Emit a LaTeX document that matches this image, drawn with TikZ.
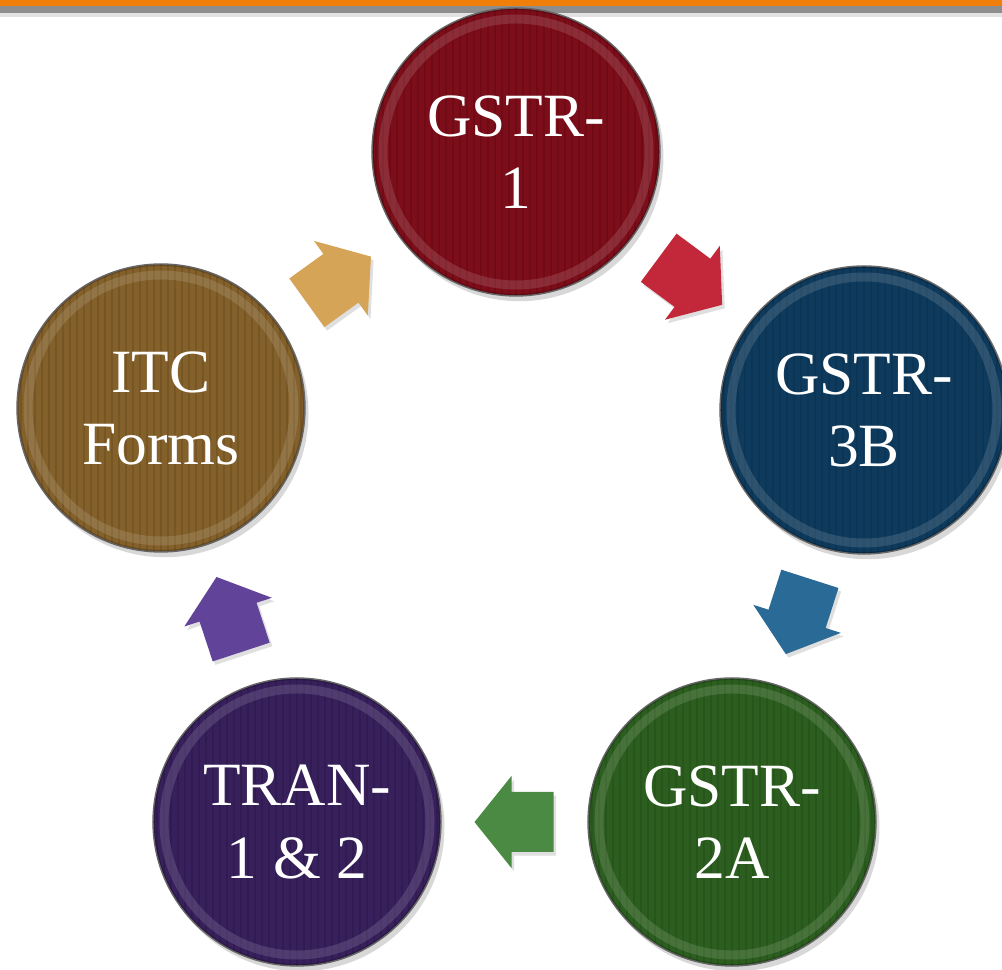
\documentclass[tikz,border=0pt]{standalone}
\usepackage{fontspec}
\setmainfont{Liberation Serif}
\usepackage{xcolor}
\usepackage{tikz}
\usetikzlibrary{
	calc,
	shadows
}

\definecolor{gstrone}{HTML}{7C0D19}
\definecolor{gstrthree}{HTML}{0E3A5D}
\definecolor{gstrtwo}{HTML}{2C5F1F}
\definecolor{tranpurple}{HTML}{37205B}
\definecolor{itcbrown}{HTML}{84602A}
\definecolor{arrred}{HTML}{C3283A}
\definecolor{arrblue}{HTML}{2A6A97}
\definecolor{arrgreen}{HTML}{4B8A42}
\definecolor{arrpurple}{HTML}{62439A}
\definecolor{arrtan}{HTML}{D6A457}
\definecolor{barorange}{HTML}{F07F09}
\definecolor{bargrey}{HTML}{8E8E8E}
\definecolor{barlight}{HTML}{E2E2E2}

\begin{document}
\begin{tikzpicture}[x=0.02cm, y=0.02cm,
	stage/.style={circle, minimum size=5.76cm, inner sep=0pt, align=center,
		text=white, font=\fontsize{35}{41}\selectfont,
		draw=black!60, line width=0.8pt,
		drop shadow={shadow xshift=2pt, shadow yshift=-3pt, opacity=.3},
		path picture={
			\foreach \k in {-147,-140,...,147}
			\draw[black, opacity=.1, line width=0.05cm]
				([xshift=\k*0.02cm]path picture bounding box.south) -- ([xshift=\k*0.02cm]path picture bounding box.north);
			\draw[white, opacity=.13, line width=0.18cm]
				(path picture bounding box.center) circle[radius=133];
			\draw[black, opacity=.22, line width=0.16cm]
				(path picture bounding box.center) circle[radius=146];
		}},
	pics/blockarrow/.style={code={
		\fill[#1, drop shadow={shadow xshift=1.5pt, shadow yshift=-2pt, opacity=.25}]
			(-39,-30) -- (3,-30) -- (3,-46) -- (40,0) -- (3,46) -- (3,30) -- (-39,30) -- cycle;
	}}]
	\useasboundingbox (0,0) rectangle (1002,970);
	\fill[white] (0,0) rectangle (1002,970);
	\fill[barlight] (0,953) rectangle (1002,957);
	\fill[bargrey] (0,957) rectangle (1002,964);
	\fill[barorange] (0,964) rectangle (1002,970);
	\foreach \name/\x/\y/\col/\txt in {
		gone/516/818/gstrone/{GSTR-\\1},
		gthree/864/560/gstrthree/{GSTR-\\3B},
		gtwo/732/148/gstrtwo/{GSTR-\\2A},
		tran/297/148/tranpurple/{TRAN-\\1 \& 2},
		itc/161/562/itcbrown/{ITC\\Forms}}
	\node[stage, fill=\col] (\name) at (\x,\y) {\txt};
	\foreach \a/\b/\col in {gone/gthree/arrred, gthree/gtwo/arrblue, gtwo/tran/arrgreen, tran/itc/arrpurple, itc/gone/arrtan}
	\path let \p1=($(\b)-(\a)$), \n1={atan2(\y1,\x1)} in
		($(\a)!0.5!(\b)$) pic[rotate=\n1] {blockarrow=\col};
\end{tikzpicture}
\end{document}
